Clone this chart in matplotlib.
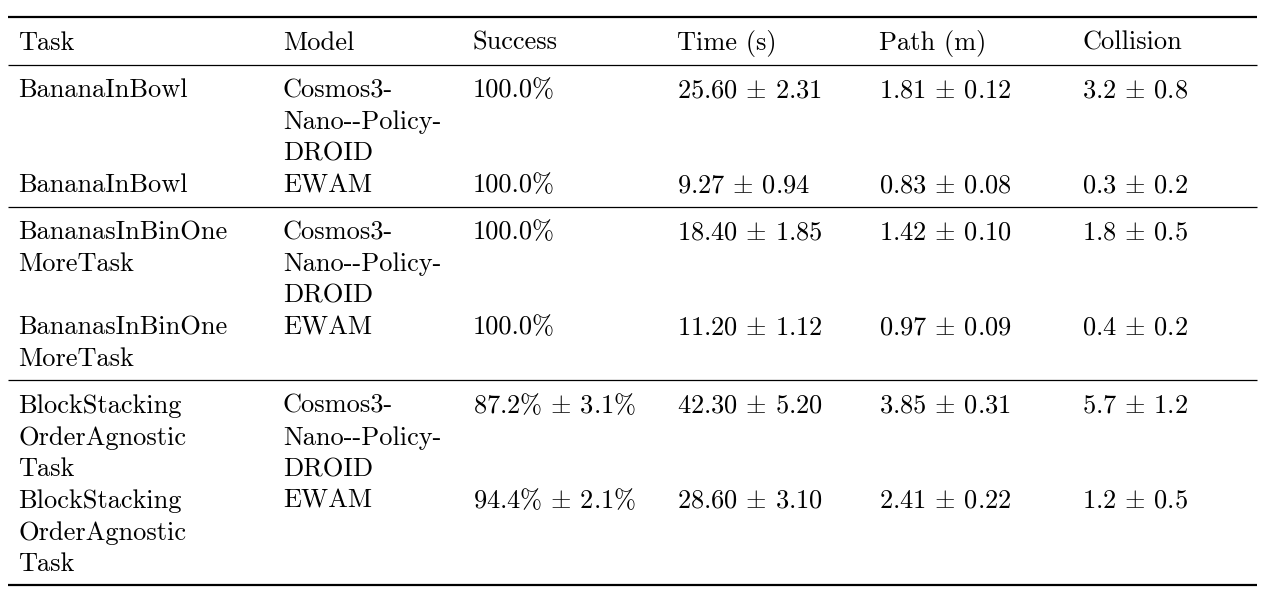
import matplotlib
matplotlib.use("Agg")
import matplotlib.pyplot as plt

plt.rcParams['font.family'] = ['cmr10', 'DejaVu Serif']
plt.rcParams['mathtext.fontset'] = 'cm'
plt.rcParams['axes.formatter.use_mathtext'] = True

headers = ["Task", "Model", "Success", "Time (s)", "Path (m)", "Collision"]
task_lines = [
    ["BananaInBowl"],
    ["BananaInBowl"],
    ["BananasInBinOne", "MoreTask"],
    ["BananasInBinOne", "MoreTask"],
    ["BlockStacking", "OrderAgnostic", "Task"],
    ["BlockStacking", "OrderAgnostic", "Task"],
]
model_lines = [
    ["Cosmos3-", "Nano--Policy-", "DROID"],
    ["EWAM"],
    ["Cosmos3-", "Nano--Policy-", "DROID"],
    ["EWAM"],
    ["Cosmos3-", "Nano--Policy-", "DROID"],
    ["EWAM"],
]
success = ["100.0%", "100.0%", "100.0%", "100.0%", "87.2% ± 3.1%", "94.4% ± 2.1%"]
time_s = ["25.60 ± 2.31", "9.27 ± 0.94", "18.40 ± 1.85", "11.20 ± 1.12", "42.30 ± 5.20", "28.60 ± 3.10"]
path_m = ["1.81 ± 0.12", "0.83 ± 0.08", "1.42 ± 0.10", "0.97 ± 0.09", "3.85 ± 0.31", "2.41 ± 0.22"]
collision = ["3.2 ± 0.8", "0.3 ± 0.2", "1.8 ± 0.5", "0.4 ± 0.2", "5.7 ± 1.2", "1.2 ± 0.5"]
group_end = [1, 3]  # rows after which a midrule is drawn

W, H = 1280, 603
fig = plt.figure(figsize=(W / 100, H / 100), dpi=100)
ax = fig.add_axes([0, 0, 1, 1])
ax.set_xlim(0, W)
ax.set_ylim(H, 0)
ax.axis('off')

col_x = [18, 283, 473, 677, 879, 1082]
x0, x1 = 8, 1257
fs = 19
tc = '#000000'
line_h = 31.7

def fmt(s):
    return s.replace("±", r"$\pm$")

def rule(y, lw):
    ax.plot([x0, x1], [y, y], color='black', lw=lw, solid_capstyle='butt')

top = 17
rule(top, 1.6)
hb = top + 33
for x, h in zip(col_x, headers):
    ax.text(x, hb, h, fontsize=fs, color=tc, va='baseline', ha='left')
y_rule = hb + 15
rule(y_rule, 0.9)

y = y_rule + 32
for i in range(len(task_lines)):
    nlines = max(len(task_lines[i]), len(model_lines[i]))
    for k, t in enumerate(task_lines[i]):
        ax.text(col_x[0], y + k * line_h, t, fontsize=fs, color=tc, va='baseline')
    for k, t in enumerate(model_lines[i]):
        ax.text(col_x[1], y + k * line_h, t, fontsize=fs, color=tc, va='baseline')
    for x, v in zip(col_x[2:], [success[i], time_s[i], path_m[i], collision[i]]):
        ax.text(x, y, fmt(v), fontsize=fs, color=tc, va='baseline')
    last = y + (nlines - 1) * line_h
    if i in group_end:
        rule(last + 14.5, 0.9)
        y = last + 14.5 + 32.5
    elif i == len(task_lines) - 1:
        rule(last + 14, 1.6)
    else:
        y = last + line_h

fig.savefig("out.png", dpi=100)
